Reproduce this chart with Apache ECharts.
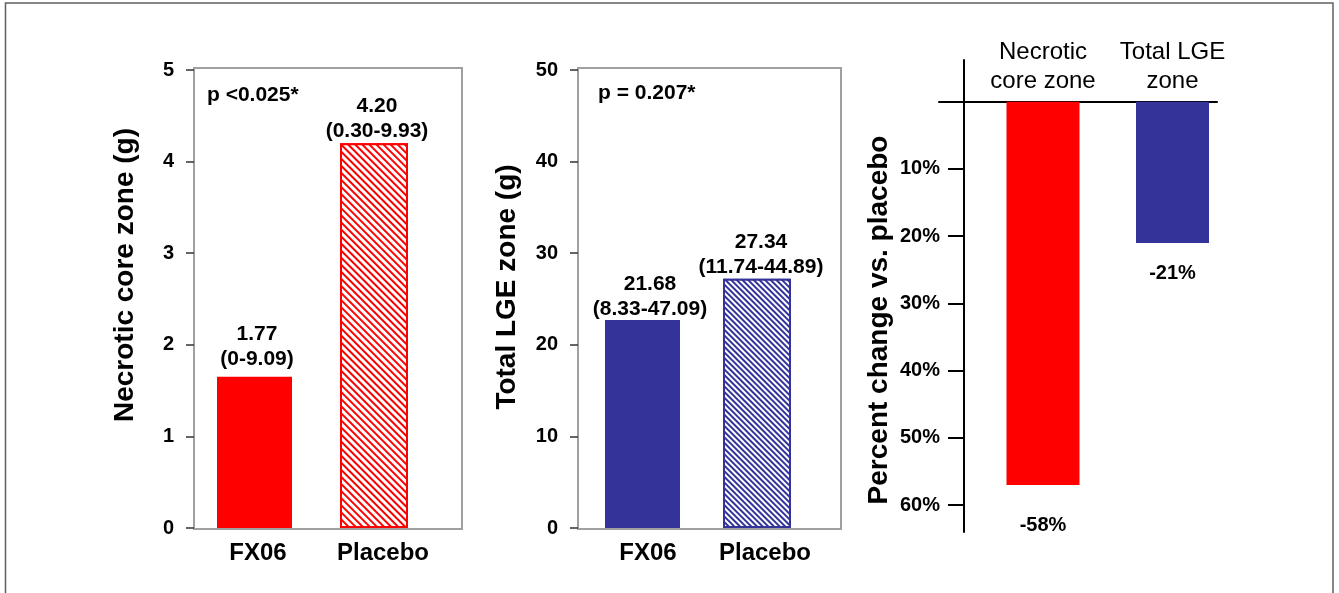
<!DOCTYPE html>
<html><head><meta charset="utf-8">
<script src="https://cdn.jsdelivr.net/npm/echarts@6/dist/echarts.min.js"></script>
<style>html,body{margin:0;padding:0;background:#fff}#c{width:1339px;height:593px}</style>
</head><body><div id="c"></div>
<script>
// ---- data ----
const groups = ['FX06', 'Placebo'];
const necroticValues = [1.65, 4.20];
const necroticLabels = ['1.77\n(0-9.09)', '4.20\n(0.30-9.93)'];
const lgeValues = [22.7, 27.2];
const lgeLabels = ['21.68\n(8.33-47.09)', '27.34\n(11.74-44.89)'];
const changeZones = ['Necrotic\ncore zone', 'Total LGE\nzone'];
const changeValues = [-57, -21];
const changeLabels = ['-58%', '-21%'];
const percentTicks = [-10, -20, -30, -40, -50, -60];
const pValues = ['p <0.025*', 'p = 0.207*'];
const axisTitles = ['Necrotic core zone (g)', 'Total LGE zone (g)', 'Percent change vs. placebo'];

// ---- styles ----
const FONT = '"Liberation Sans", Arial, Helvetica, sans-serif';
const RED = '#ff0000', BLUE = '#333399';
const hatch = (color, th, gap) => ({
  symbol: 'rect', symbolSize: 1, dashArrayX: [1, 0], dashArrayY: [th, gap],
  rotation: Math.PI / 4, color: color, backgroundColor: '#ffffff'
});

function catAxis(grid, pads) {
  return {
    type: 'category', gridIndex: grid, data: groups,
    axisLine: { show: false }, axisTick: { show: false },
    axisLabel: {
      margin: 13, interval: 0,
      formatter: (v, i) => '{c' + i + '|' + v + '}',
      rich: {
        c0: { fontSize: 24, fontWeight: 'bold', fontFamily: FONT, color: '#000', padding: [0, 0, 0, pads[0]] },
        c1: { fontSize: 24, fontWeight: 'bold', fontFamily: FONT, color: '#000', padding: [0, 0, 0, pads[1]] }
      }
    }
  };
}
function valAxis(grid, max, interval, offset) {
  return {
    type: 'value', gridIndex: grid, min: 0, max: max, interval: interval, offset: offset,
    axisLine: { show: false },
    axisTick: { show: true, length: 8, lineStyle: { color: '#333', width: 1.5 } },
    axisLabel: { fontSize: 20, fontWeight: 'bold', fontFamily: FONT, color: '#000', margin: 20 },
    splitLine: { show: false }
  };
}
function hiddenX(grid) { return { type: 'category', gridIndex: grid, data: ['a'], show: false }; }
function hiddenY(grid, min, max) { return { type: 'value', gridIndex: grid, min: min, max: max, show: false, splitLine: { show: false } }; }

const labelBase = { show: true, position: 'top', fontSize: 21, fontWeight: 'bold', fontFamily: FONT, color: '#000', lineHeight: 25, align: 'center' };

function groupSeries(axisIdx, values, labels, color, decal, offs, dists) {
  return [
    {
      type: 'bar', xAxisIndex: axisIdx, yAxisIndex: axisIdx, barWidth: 75, barGap: '-100%',
      data: [{ value: values[0], label: Object.assign({}, labelBase, { formatter: labels[0], offset: [offs[0], 0], distance: dists[0] }) }, '-'],
      itemStyle: { color: color }, silent: true
    },
    {
      type: 'bar', xAxisIndex: axisIdx, yAxisIndex: axisIdx, barWidth: 68, barGap: '-100%',
      data: ['-', { value: values[1], label: Object.assign({}, labelBase, { formatter: labels[1], offset: [offs[1], 0], distance: dists[1] }) }],
      itemStyle: { color: '#ffffff', borderColor: color, borderWidth: 2, decal: decal }, silent: true
    }
  ];
}

const G = { outerBoundsMode: 'none', containLabel: false };
const option = {
  animation: false,
  backgroundColor: '#ffffff',
  textStyle: { fontFamily: FONT },
  grid: [
    Object.assign({ left: 189.5, top: 70, width: 246, height: 458 }, G),                 // 0 necrotic bars
    Object.assign({ left: 194, top: 68, width: 268, height: 461, show: true, borderColor: '#a0a0a0', borderWidth: 2, backgroundColor: 'transparent' }, G), // 1 box
    Object.assign({ left: 580, top: 70, width: 236, height: 458 }, G),                   // 2 LGE bars
    Object.assign({ left: 578, top: 68, width: 263, height: 461, show: true, borderColor: '#a0a0a0', borderWidth: 2, backgroundColor: 'transparent' }, G), // 3 box
    Object.assign({ left: 978.25, top: 60, width: 259, height: 472 }, G),                // 4 change bars
    Object.assign({ left: 939, top: 60, width: 278, height: 472 }, G)                    // 5 zero line
  ],
  xAxis: [
    catAxis(0, [14, 18]),
    hiddenX(1),
    catAxis(2, [18, 16]),
    hiddenX(3),
    {
      type: 'category', gridIndex: 4, data: changeZones, position: 'top', offset: -46,
      axisLine: { show: false, onZero: false }, axisTick: { show: false },
      axisLabel: { fontSize: 24, fontFamily: FONT, color: '#000', lineHeight: 29, margin: 10, interval: 0 }
    },
    {
      type: 'category', gridIndex: 5, data: ['a'],
      axisLine: { show: true, onZero: true, lineStyle: { color: '#000', width: 2 } },
      axisTick: { show: false }, axisLabel: { show: false }
    }
  ],
  yAxis: [
    valAxis(0, 5, 1, -4.5),
    hiddenY(1, 0, 1),
    valAxis(2, 50, 10, 2),
    hiddenY(3, 0, 1),
    {
      type: 'value', gridIndex: 4, min: -64, max: 6.2, offset: 14.25,
      axisLine: { show: true, lineStyle: { color: '#000', width: 2 } },
      axisTick: { show: true, length: 16, customValues: percentTicks, lineStyle: { color: '#000', width: 2 } },
      axisLabel: { customValues: percentTicks, formatter: v => Math.abs(v) + '%', fontSize: 20, fontWeight: 'bold', fontFamily: FONT, color: '#000', margin: 24 },
      splitLine: { show: false }
    },
    hiddenY(5, -64, 6.2)
  ],
  series: [].concat(
    groupSeries(0, necroticValues, necroticLabels, RED, hatch(RED, 1.3, 2.1), [2.5, 3], [5, -0.5]),
    groupSeries(2, lgeValues, lgeLabels, BLUE, hatch(BLUE, 2, 2), [7.5, 4], [-1.5, -1]),
    [{
      type: 'bar', xAxisIndex: 4, yAxisIndex: 4, barWidth: 73, silent: true,
      data: changeValues.map((v, i) => ({
        value: v,
        itemStyle: { color: [RED, BLUE][i] },
        label: { show: true, position: 'bottom', formatter: changeLabels[i], distance: [31, 21][i],
                 fontSize: 20, fontWeight: 'bold', fontFamily: FONT, color: '#000' }
      }))
    }]
  ),
  graphic: [
    { type: 'rect', shape: { x: 5.5, y: 3, width: 1327.5, height: 640 }, style: { fill: 'none', stroke: '#606060', lineWidth: 1.5 }, silent: true },
    { type: 'text', x: 125, y: 275, rotation: Math.PI / 2, style: { text: axisTitles[0], fontSize: 28, fontWeight: 'bold', fontFamily: FONT, fill: '#000', align: 'center', verticalAlign: 'middle' } },
    { type: 'text', x: 507, y: 287, rotation: Math.PI / 2, style: { text: axisTitles[1], fontSize: 28, fontWeight: 'bold', fontFamily: FONT, fill: '#000', align: 'center', verticalAlign: 'middle' } },
    { type: 'text', x: 879, y: 320, rotation: Math.PI / 2, style: { text: axisTitles[2], fontSize: 28, fontWeight: 'bold', fontFamily: FONT, fill: '#000', align: 'center', verticalAlign: 'middle' } },
    { type: 'text', x: 207, y: 95, style: { text: pValues[0], fontSize: 21, fontWeight: 'bold', fontFamily: FONT, fill: '#000', align: 'left', verticalAlign: 'middle' } },
    { type: 'text', x: 598, y: 93, style: { text: pValues[1], fontSize: 21, fontWeight: 'bold', fontFamily: FONT, fill: '#000', align: 'left', verticalAlign: 'middle' } }
  ]
};
const chart = echarts.init(document.getElementById('c'), null, { renderer: 'canvas' });
chart.setOption(option);
</script></body></html>
